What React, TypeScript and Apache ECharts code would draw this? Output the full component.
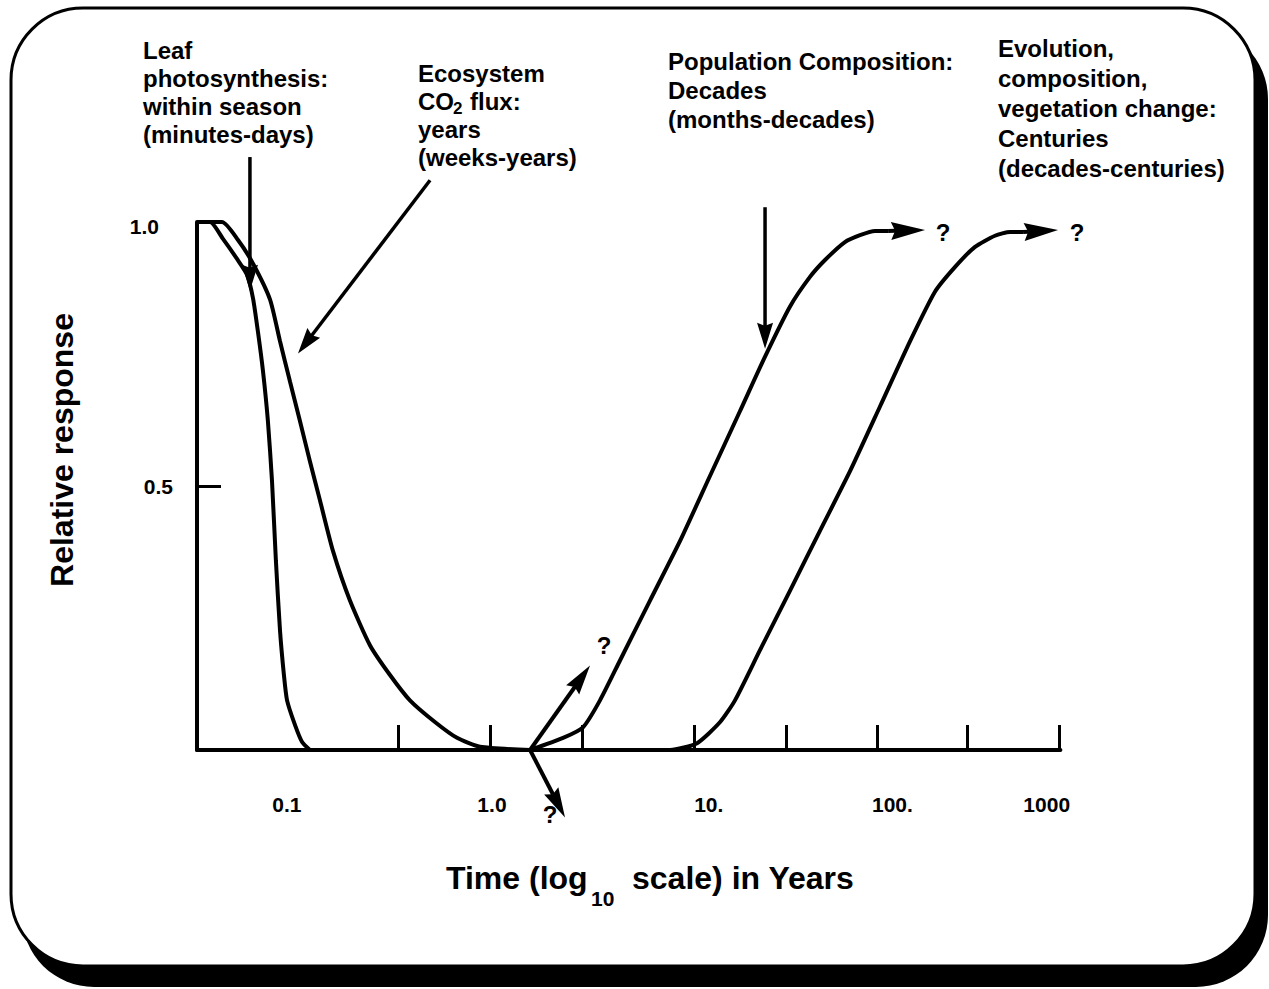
import React, { useEffect, useRef } from "react";
import * as echarts from "echarts";

const FONT = '"Liberation Sans", Arial, Helvetica, sans-serif';

// x unit: position along the hand-drawn log10(years) axis
const X_MIN = -1.5;
const X_MAX = 2.92;

const xTickValues = [-0.471, 0, 0.471, 1.044, 1.515, 1.981, 2.442, 2.913];
const xLabelValues = [-1.04, 0.01, 1.12, 2.06, 2.85];
const xLabelTexts = ["0.1", "1.0", "10.", "100.", "1000"];
const yTickValues = [0.5, 1.0];
const yLabelValues = [0.5, 1.0];
const yLabelTexts = ["0.5", "1.0"];

const leafCurve = [
  [-1.5, 1.0], [-1.433, 1.0], [-1.367, 0.968], [-1.295, 0.93], [-1.244, 0.9],
  [-1.213, 0.855], [-1.188, 0.792], [-1.162, 0.717], [-1.137, 0.623], [-1.116, 0.509],
  [-1.096, 0.358], [-1.075, 0.226], [-1.055, 0.142], [-1.039, 0.094], [-0.998, 0.047],
  [-0.962, 0.015], [-0.922, 0.0],
];

const ecosystemCurve = [
  [-1.5, 1.0], [-1.372, 1.0], [-1.29, 0.966], [-1.213, 0.921], [-1.126, 0.853],
  [-1.075, 0.774], [-1.024, 0.698], [-0.973, 0.623], [-0.922, 0.547], [-0.87, 0.472],
  [-0.804, 0.377], [-0.717, 0.283], [-0.614, 0.198], [-0.512, 0.142], [-0.41, 0.094],
  [-0.282, 0.053], [-0.169, 0.023], [-0.051, 0.006], [0.205, 0.0],
];

const populationCurve = [
  [0.205, 0.0], [0.374, 0.023], [0.476, 0.043], [0.563, 0.094], [0.666, 0.17],
  [0.819, 0.283], [0.973, 0.396], [1.126, 0.519], [1.28, 0.642], [1.408, 0.745],
  [1.536, 0.84], [1.638, 0.896], [1.715, 0.928], [1.817, 0.962], [1.894, 0.975],
  [1.971, 0.983], [2.038, 0.983],
];

const evolutionCurve = [
  [0.717, 0.0], [0.922, 0.0], [1.06, 0.013], [1.178, 0.053], [1.254, 0.094],
  [1.382, 0.189], [1.536, 0.302], [1.689, 0.415], [1.843, 0.528], [1.997, 0.651],
  [2.15, 0.774], [2.278, 0.868], [2.381, 0.915], [2.483, 0.953], [2.585, 0.974],
  [2.662, 0.981], [2.729, 0.981],
];

// arrows: [fromX, fromY, toX, toY]
const pointerArrows = [
  [-1.229, 1.123, -1.229, 0.87],
  [-0.307, 1.079, -0.983, 0.751],
  [1.408, 1.028, 1.408, 0.76],
];
const branchArrows = [
  [0.205, 0.0, 0.512, 0.16],
  [0.205, 0.0, 0.384, -0.128],
];
const curveEndArrows = [
  [2.038, 0.983, 2.227, 0.985],
  [2.729, 0.981, 2.908, 0.985],
];
const questionMarks = [
  [0.584, 0.198],
  [0.307, -0.123],
  [2.319, 0.981],
  [3.005, 0.981],
];

const leafLines = ["Leaf", "photosynthesis:", "within season", "(minutes-days)"];
const ecoLines = ["Ecosystem", "", "years", "(weeks-years)"];
const popLines = ["Population Composition:", "Decades", "(months-decades)"];
const evoLines = ["Evolution,", "composition,", "vegetation change:", "Centuries", "(decades-centuries)"];

function arrowRenderer(headLen: number, headHalf: number, lineWidth: number) {
  return (params: any, api: any) => {
    const p1 = api.coord([api.value(0), api.value(1)]);
    const p2 = api.coord([api.value(2), api.value(3)]);
    const dx = p2[0] - p1[0];
    const dy = p2[1] - p1[1];
    const len = Math.hypot(dx, dy) || 1;
    const ux = dx / len;
    const uy = dy / len;
    const bx = p2[0] - ux * headLen;
    const by = p2[1] - uy * headLen;
    const nx = -uy;
    const ny = ux;
    return {
      type: "group",
      children: [
        {
          type: "line",
          shape: { x1: p1[0], y1: p1[1], x2: bx + ux * 4, y2: by + uy * 4 },
          style: { stroke: "#000", lineWidth },
        },
        {
          type: "polygon",
          shape: {
            points: [
              [p2[0], p2[1]],
              [bx + nx * headHalf, by + ny * headHalf],
              [bx + ux * headLen * 0.12, by + uy * headLen * 0.12],
              [bx - nx * headHalf, by - ny * headHalf],
            ],
          },
          style: { fill: "#000" },
        },
      ],
    };
  };
}

function textEl(text: string, x: number, y: number, size: number, extra: any = {}) {
  return {
    type: "text",
    x,
    y,
    ...extra,
    style: {
      text,
      fill: "#000",
      font: `bold ${size}px ${FONT}`,
      textAlign: extra.align || "left",
      textVerticalAlign: "middle",
      align: extra.align || "left",
      verticalAlign: "middle",
    },
  };
}

function blockEls(lines: string[], x: number, y0: number, pitch: number, size: number) {
  return lines
    .map((t, i) => (t ? textEl(t, x, y0 + i * pitch, size) : null))
    .filter(Boolean);
}

function curveSeries(name: string, data: number[][]) {
  return {
    name,
    type: "line",
    data,
    symbol: "none",
    smooth: 0.2,
    clip: false,
    lineStyle: { color: "#000", width: 4 },
    z: 3,
  };
}

export default function App() {
  const ref = useRef<HTMLDivElement>(null);

  useEffect(() => {
    if (!ref.current) return;
    const chart = echarts.init(ref.current, undefined, { renderer: "svg" });

    const graphic: any[] = [
      { type: "rect", z: -2, shape: { x: 22, y: 27, width: 1246, height: 960, r: 72 }, style: { fill: "#000" } },
      { type: "rect", z: -1, shape: { x: 11, y: 8, width: 1244, height: 958, r: 72 }, style: { fill: "#fff", stroke: "#000", lineWidth: 3 } },
      ...blockEls(leafLines, 143, 50, 28, 24),
      ...blockEls(ecoLines, 418, 73, 28, 24),
      textEl("CO", 418, 101, 24),
      textEl("2", 453, 108, 17),
      textEl("flux:", 470, 101, 24),
      ...blockEls(popLines, 668, 61, 29, 24),
      ...blockEls(evoLines, 998, 48, 30, 24),
      textEl("Relative response", 62, 450, 32, { rotation: Math.PI / 2, align: "center" }),
      textEl("Time (log", 446, 878, 32),
      textEl("10", 591, 898, 21),
      textEl("scale) in Years", 632, 878, 32),
    ];

    const option: any = {
      animation: false,
      backgroundColor: "transparent",
      grid: { left: 197, right: 208.6, top: 222, bottom: 239, containLabel: false, outerBoundsMode: "none" },
      xAxis: {
        type: "value",
        min: X_MIN,
        max: X_MAX,
        axisLine: { show: true, onZero: false, lineStyle: { color: "#000", width: 4 } },
        axisTick: {
          show: true,
          inside: true,
          length: 25,
          customValues: xTickValues,
          lineStyle: { color: "#000", width: 3 },
        },
        axisLabel: {
          show: true,
          customValues: xLabelValues,
          formatter: (v: number) => {
            const i = xLabelValues.findIndex((c) => Math.abs(c - v) < 1e-6);
            return i >= 0 ? xLabelTexts[i] : "";
          },
          margin: 44,
          color: "#000",
          fontSize: 21,
          fontWeight: "bold",
          fontFamily: FONT,
        },
        splitLine: { show: false },
      },
      yAxis: {
        type: "value",
        min: 0,
        max: 1,
        axisLine: { show: true, onZero: false, lineStyle: { color: "#000", width: 4 } },
        axisTick: {
          show: true,
          inside: true,
          length: 24,
          customValues: yTickValues,
          lineStyle: { color: "#000", width: 3 },
        },
        axisLabel: {
          show: true,
          customValues: yLabelValues,
          formatter: (v: number) => {
            const i = yLabelValues.findIndex((c) => Math.abs(c - v) < 1e-6);
            if (i < 0) return "";
            return v === 1 ? `{top|${yLabelTexts[i]}}` : `{mid|${yLabelTexts[i]}}`;
          },
          margin: 24,
          color: "#000",
          fontSize: 21,
          fontWeight: "bold",
          fontFamily: FONT,
          rich: {
            top: { fontSize: 21, fontWeight: "bold", fontFamily: FONT, color: "#000", padding: [8, 14, 0, 0] },
            mid: { fontSize: 21, fontWeight: "bold", fontFamily: FONT, color: "#000" },
          },
        },
        splitLine: { show: false },
      },
      graphic,
      series: [
        curveSeries("Leaf photosynthesis", leafCurve),
        curveSeries("Ecosystem CO2 flux", ecosystemCurve),
        curveSeries("Population composition", populationCurve),
        curveSeries("Evolution / vegetation change", evolutionCurve),
        {
          name: "pointer arrows",
          type: "custom",
          data: pointerArrows,
          encode: { x: [0, 2], y: [1, 3] },
          clip: false,
          z: 4,
          renderItem: arrowRenderer(26, 8, 3.5),
        },
        {
          name: "branch arrows",
          type: "custom",
          data: branchArrows,
          encode: { x: [0, 2], y: [1, 3] },
          clip: false,
          z: 4,
          renderItem: arrowRenderer(30, 8, 4),
        },
        {
          name: "curve end arrows",
          type: "custom",
          data: curveEndArrows,
          encode: { x: [0, 2], y: [1, 3] },
          clip: false,
          z: 4,
          renderItem: arrowRenderer(34, 9, 4),
        },
        {
          name: "question marks",
          type: "custom",
          data: questionMarks,
          encode: { x: 0, y: 1 },
          clip: false,
          z: 4,
          renderItem: (params: any, api: any) => {
            const p = api.coord([api.value(0), api.value(1)]);
            return {
              type: "text",
              x: p[0],
              y: p[1],
              style: {
                text: "?",
                fill: "#000",
                font: `bold 24px ${FONT}`,
                textAlign: "center",
                textVerticalAlign: "middle",
                align: "center",
                verticalAlign: "middle",
              },
            };
          },
        },
      ],
    };

    chart.setOption(option);
    return () => chart.dispose();
  }, []);

  return (
    <div
      ref={ref}
      style={{ position: "fixed", left: 0, top: 0, width: 1269, height: 989, background: "#fff" }}
    />
  );
}
